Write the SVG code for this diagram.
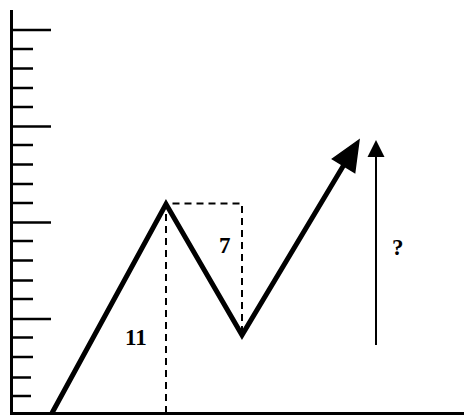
<svg xmlns="http://www.w3.org/2000/svg" width="464" height="415" viewBox="0 0 464 415">
<style>
.axis{stroke:#000;stroke-width:3;fill:none}
.tick{stroke:#000;stroke-width:2.5}
.dash{stroke:#000;stroke-width:2;stroke-dasharray:7 5;fill:none}
.zig{stroke:#000;stroke-width:5;fill:none;stroke-linejoin:miter}
.lbl{font-family:"Liberation Serif",serif;font-weight:bold;font-size:23px;fill:#000}
</style>
<rect width="464" height="415" fill="#fff"/>
<g id="axes">
<path class="axis" d="M11.5,10 V413.5 H464"/>
<g class="tick">
<line x1="11" y1="30" x2="51" y2="30"/>
<line x1="11" y1="49" x2="33" y2="49"/>
<line x1="11" y1="68.5" x2="33" y2="68.5"/>
<line x1="11" y1="88" x2="33" y2="88"/>
<line x1="11" y1="107" x2="33" y2="107"/>
<line x1="11" y1="126.5" x2="51" y2="126.5"/>
<line x1="11" y1="145" x2="33" y2="145"/>
<line x1="11" y1="164.5" x2="33" y2="164.5"/>
<line x1="11" y1="184" x2="33" y2="184"/>
<line x1="11" y1="203" x2="33" y2="203"/>
<line x1="11" y1="222.5" x2="51" y2="222.5"/>
<line x1="11" y1="241" x2="33" y2="241"/>
<line x1="11" y1="260.5" x2="33" y2="260.5"/>
<line x1="11" y1="280.5" x2="33" y2="280.5"/>
<line x1="11" y1="299" x2="33" y2="299"/>
<line x1="11" y1="319" x2="51" y2="319"/>
<line x1="11" y1="337.5" x2="33" y2="337.5"/>
<line x1="11" y1="357" x2="33" y2="357"/>
<line x1="11" y1="377.5" x2="31" y2="377.5"/>
<line x1="11" y1="396" x2="31" y2="396"/>
</g>
</g>
<g id="connectors">
<path class="dash" d="M166,413 V203.5 H242 V335"/>
<path class="zig" d="M52,413 L166,204 L242,335 L345,163"/>
<polygon points="359,140 332.5,159 354.7,172.4" fill="#000" stroke="#000" stroke-width="1.5" stroke-linejoin="miter"/>
<line x1="376" y1="345" x2="376" y2="155" stroke="#000" stroke-width="2"/>
<polygon points="376,140 367.5,157 384.5,157" fill="#000"/>
</g>
<g id="labels">
<text class="lbl" x="125" y="345">11</text>
<text class="lbl" x="219" y="253">7</text>
<text class="lbl" x="392" y="255">?</text>
</g>
</svg>
